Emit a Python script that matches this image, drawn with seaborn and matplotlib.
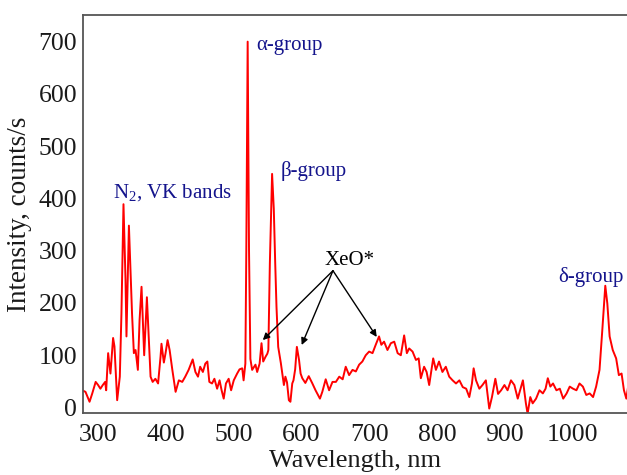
import matplotlib
matplotlib.use("Agg")
import matplotlib.pyplot as plt
import seaborn as sns
import pandas as pd
from matplotlib.ticker import MultipleLocator

# ---- data ----
wavelength = [277, 282, 288, 292, 297, 300.6, 304, 307.5, 311, 312.5, 315.4, 318.8, 322.7, 324.7,
              328.7, 332.6, 335, 338, 341, 342.4, 346, 350.6, 353.3, 355.8, 359.2, 361.7, 364.6,
              367, 368.5, 372.5, 375.4, 377.9, 381, 385, 389, 392.6, 394, 397.5, 400, 403, 406,
              410, 414.8, 419.6, 424.6, 429, 434, 440, 444, 447.8, 451, 455, 458.6, 461.6, 464.5,
              468.5, 472, 476, 479.6, 482.6, 485.7, 489, 493, 496.6, 500.5, 505.5, 509, 513, 515,
              517.6, 519, 521, 523, 525, 527.6, 532.5, 535, 538.6, 541.4, 543.9, 547.3, 550,
              551.5, 553.7, 557, 559.5, 561.6, 563.5, 566, 569.9, 572, 574.4, 576.6, 579, 581.7,
              584, 586.7, 588.5, 591, 593.5, 596.7, 599, 601.5, 606, 611, 616, 621, 627.5, 631,
              636, 641, 646, 651, 656, 661, 665.5, 670.5, 675.5, 680.4, 685.3, 690, 695, 700,
              705, 709.7, 714.6, 718, 722, 727, 732, 737, 742, 746.7, 751.6, 755.6, 759, 764,
              769, 773, 776.2, 781, 784.7, 788.5, 794.4, 798.4, 803, 808, 813, 818, 823, 828,
              833, 838, 843, 847.6, 851.5, 854, 857.5, 862.4, 867, 872, 877, 881, 886, 890,
              894.5, 899.4, 904, 909, 914, 919, 924, 926.6, 931, 933.5, 937.5, 941, 946, 951,
              956, 960, 963.3, 967, 971, 976, 981, 986, 991, 995.6, 1000.5, 1005.5, 1010, 1015,
              1020, 1025, 1030, 1034.5, 1039.5, 1043.6, 1048, 1051, 1054.4, 1059, 1064, 1068,
              1072, 1075.5, 1079, 1082]
intensity = [33, 30, 11, 27, 49, 43, 36, 43, 49, 33, 104, 65, 133, 117,
             14, 59, 180, 389, 244, 136, 348, 180, 104, 110, 72, 167, 231,
             147, 100, 211, 129, 59, 49, 55, 46, 97, 122, 86, 104, 129, 110,
             72, 30, 52, 49, 59, 72, 92, 68, 59, 78, 68, 84, 88, 49,
             46, 55, 36, 52, 33, 17, 46, 55, 33, 52, 65, 73, 75, 52,
             84, 300, 700, 300, 93, 72, 82, 68, 84, 123, 88, 97, 103,
             110, 276, 447, 380, 276, 192, 116, 85, 65, 43, 59, 48, 14,
             11, 46, 52, 73, 116, 91, 65, 56, 47, 60, 47, 33, 17, 30,
             54, 33, 49, 49, 59, 54, 78, 62, 72, 69, 82, 88, 100, 107,
             104, 120, 136, 120, 126, 110, 123, 126, 104, 100, 138, 104, 113, 107,
             91, 94, 56, 78, 68, 43, 94, 72, 88, 68, 78, 59, 52, 46,
             52, 39, 36, 20, 46, 75, 52, 36, 43, 52, -2, 20, 55, 26,
             33, 43, 33, 52, 43, 17, 40, 52, 8, -12, 20, 8, 17, 33,
             27, 36, 56, 40, 46, 33, 36, 17, 27, 40, 36, 33, 46, 40,
             24, 27, 20, 40, 72, 148, 233, 199, 136, 110, 94, 62,
             65, 33, 17, 43]

x_ticks = [300, 400, 500, 600, 700, 800, 900, 1000]
y_ticks = [0, 100, 200, 300, 400, 500, 600, 700]

df = pd.DataFrame({"wavelength": wavelength, "intensity": intensity})

sns.set_theme(style="white")
plt.rcParams["font.family"] = ["Liberation Serif", "DejaVu Serif"]
plt.rcParams["mathtext.fontset"] = "custom"
plt.rcParams["mathtext.rm"] = "Liberation Serif"
plt.rcParams["mathtext.it"] = "Liberation Serif:italic"

fig = plt.figure(figsize=(6.27, 4.75), dpi=100)
ax = fig.add_axes([0.132, 1 - 413 / 475, 1 - 0.132, (413 - 15) / 475])

sns.lineplot(data=df, x="wavelength", y="intensity", color="#ff0000", linewidth=1.4, ax=ax,
             estimator=None)

ax.set_xlim(278, 1080)
ax.set_ylim(-10.5, 751)
ax.set_xticks(x_ticks)
ax.set_yticks(y_ticks)
ax.xaxis.set_minor_locator(MultipleLocator(10))
ax.yaxis.set_minor_locator(MultipleLocator(20))
ax.tick_params(which="both", direction="in", colors="#333333", labelcolor="#1a1a1a",
               labelsize=18.5, width=1.0)
ax.tick_params(which="major", length=6)
ax.tick_params(which="minor", length=3.5)
ax.tick_params(axis="x", pad=8)
ax.tick_params(axis="y", pad=4)

for side in ["top", "left", "bottom"]:
    ax.spines[side].set_color("#555555")
    ax.spines[side].set_linewidth(1.3)
ax.spines["right"].set_visible(False)

ax.set_xlabel("Wavelength, nm", fontsize=19, color="#1a1a1a", labelpad=3)
ax.set_ylabel("Intensity, counts/s", fontsize=19.5, color="#1a1a1a", labelpad=5)

blue = "#14148c"
ax.text(322.7, 401.5, r"N$_{\mathrm{2}}$, VK bands", color=blue, fontsize=15, va="baseline")
ax.text(534, 684, "α-group", color=blue, fontsize=15, va="baseline")
ax.text(569.4, 443.6, "β-group", color=blue, fontsize=15, va="baseline")
ax.text(978, 240.8, "δ-group", color=blue, fontsize=15, va="baseline")
ax.text(635, 272.7, "XeO*", color="black", fontsize=15, va="baseline")

origin = (646.7, 261.8)
for tx, ty in [(543.3, 129), (600.6, 119.6), (711.2, 135)]:
    ax.annotate("", xy=(tx, ty), xytext=origin,
                arrowprops=dict(arrowstyle="-|>", color="black", lw=1.0,
                                mutation_scale=10, shrinkA=0, shrinkB=0))

fig.savefig("out.png", dpi=100)
